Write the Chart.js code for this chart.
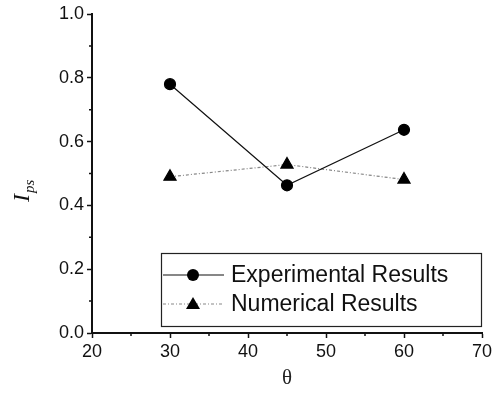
<!DOCTYPE html>
<html>
<head>
<meta charset="utf-8">
<script src="https://cdn.jsdelivr.net/npm/chart.js@4"></script>
<style>
  html, body { margin: 0; padding: 0; background: #fff; }
  #wrap { width: 500px; height: 395px; }
</style>
</head>
<body>
<div id="wrap"><canvas id="ipsChart" width="500" height="395"></canvas></div>
<script>
// Data
const angles = [30, 45, 60];
const experimental = [0.78, 0.463, 0.637];
const numerical = [0.49, 0.528, 0.481];
const seriesNames = ["Experimental Results", "Numerical Results"];
const xMinorTicks = [25, 35, 45, 55, 65];
const yMinorTicks = [0.1, 0.3, 0.5, 0.7, 0.9];

const toPoints = (ys) => angles.map((x, i) => ({ x: x, y: ys[i] }));

// Short minor ticks between the labelled ones
const minorTicks = {
    id: "minorTicks",
    afterDraw(chart) {
        const ctx = chart.ctx;
        const xs = chart.scales.x, ys = chart.scales.y;
        ctx.save();
        ctx.strokeStyle = "#111";
        ctx.lineWidth = 1.5;
        ctx.beginPath();
        xMinorTicks.forEach((v) => {
            const px = xs.getPixelForValue(v);
            ctx.moveTo(px, xs.top);
            ctx.lineTo(px, xs.top + 3);
        });
        yMinorTicks.forEach((v) => {
            const py = ys.getPixelForValue(v);
            ctx.moveTo(ys.right, py);
            ctx.lineTo(ys.right - 3, py);
        });
        ctx.stroke();
        ctx.restore();
    }
};

// Legend drawn inside the plot, boxed like the original figure
const boxLegend = {
    id: "boxLegend",
    afterDraw(chart) {
        const ctx = chart.ctx;
        const area = chart.chartArea;
        const left = 161, top = 253, right = area.right, bottom = 327;
        ctx.save();
        ctx.fillStyle = "#fff";
        ctx.fillRect(left, top, right - left, bottom - top);
        ctx.strokeStyle = "#222";
        ctx.lineWidth = 1.2;
        ctx.strokeRect(left + 0.5, top + 0.5, right - left - 1, bottom - top - 1);

        chart.data.datasets.forEach((ds, i) => {
            const y = 275 + i * 29;
            ctx.strokeStyle = ds.borderColor;
            ctx.lineWidth = ds.borderWidth;
            ctx.setLineDash(ds.borderDash || []);
            ctx.beginPath();
            ctx.moveTo(163, y);
            ctx.lineTo(224, y);
            ctx.stroke();
            ctx.setLineDash([]);
            ctx.fillStyle = "#000";
            ctx.beginPath();
            if (ds.pointStyle === "triangle") {
                ctx.moveTo(193, y - 7);
                ctx.lineTo(200, y + 5);
                ctx.lineTo(186, y + 5);
                ctx.closePath();
            } else {
                ctx.arc(193, y, 6, 0, Math.PI * 2);
            }
            ctx.fill();
            ctx.font = "23px 'Liberation Sans', Arial, sans-serif";
            ctx.textBaseline = "middle";
            ctx.fillStyle = "#111";
            ctx.fillText(ds.label, 231, y + 1);
        });
        ctx.restore();
    }
};

// Rotated y title with subscript: I_ps
const yTitle = {
    id: "yTitle",
    afterDraw(chart) {
        const ctx = chart.ctx;
        ctx.save();
        ctx.translate(29, 202);
        ctx.rotate(-Math.PI / 2);
        ctx.fillStyle = "#111";
        ctx.textBaseline = "alphabetic";
        ctx.font = "italic 24px 'Liberation Serif', 'Times New Roman', serif";
        ctx.fillText("I", 0, 0);
        const w = ctx.measureText("I").width;
        ctx.font = "italic 15px 'Liberation Serif', 'Times New Roman', serif";
        ctx.fillText("ps", w + 1, 5);
        ctx.restore();
    }
};

const ctx = document.getElementById("ipsChart").getContext("2d");
new Chart(ctx, {
    type: "line",
    data: {
        datasets: [
            {
                label: seriesNames[0],
                data: toPoints(experimental),
                borderColor: "#111",
                borderWidth: 1.2,
                pointStyle: "circle",
                pointRadius: 5.5,
                pointBackgroundColor: "#000",
                pointBorderColor: "#000",
                tension: 0
            },
            {
                label: seriesNames[1],
                data: toPoints(numerical),
                borderColor: "#888",
                borderWidth: 1.2,
                borderDash: [3, 2, 1, 2],
                pointStyle: "triangle",
                pointRadius: 7,
                pointBackgroundColor: "#000",
                pointBorderColor: "#000",
                tension: 0
            }
        ]
    },
    options: {
        responsive: false,
        animation: false,
        layout: { padding: { top: 14, right: 18, left: 0, bottom: 0 } },
        plugins: {
            legend: { display: false },
            tooltip: { enabled: false }
        },
        scales: {
            x: {
                type: "linear",
                min: 20,
                max: 70,
                afterFit(scale) { scale.height = 62; },
                border: { color: "#111", width: 2 },
                grid: { drawOnChartArea: false, tickLength: 5, color: "#111", tickWidth: 1.5 },
                ticks: {
                    stepSize: 10,
                    color: "#111",
                    padding: 3,
                    font: { family: "'Liberation Sans', Arial, sans-serif", size: 18 }
                },
                title: {
                    display: true,
                    text: "θ",
                    color: "#222",
                    padding: { top: 5 },
                    font: { family: "'Liberation Serif', 'Times New Roman', serif", size: 21 }
                }
            },
            y: {
                min: 0,
                max: 1,
                afterFit(scale) { scale.width = 92; },
                border: { color: "#111", width: 2 },
                grid: { drawOnChartArea: false, tickLength: 5, color: "#111", tickWidth: 1.5 },
                ticks: {
                    stepSize: 0.2,
                    color: "#111",
                    padding: 3,
                    callback: (v) => v.toFixed(1),
                    font: { family: "'Liberation Sans', Arial, sans-serif", size: 18 }
                }
            }
        }
    },
    plugins: [minorTicks, boxLegend, yTitle]
});
</script>
</body>
</html>
